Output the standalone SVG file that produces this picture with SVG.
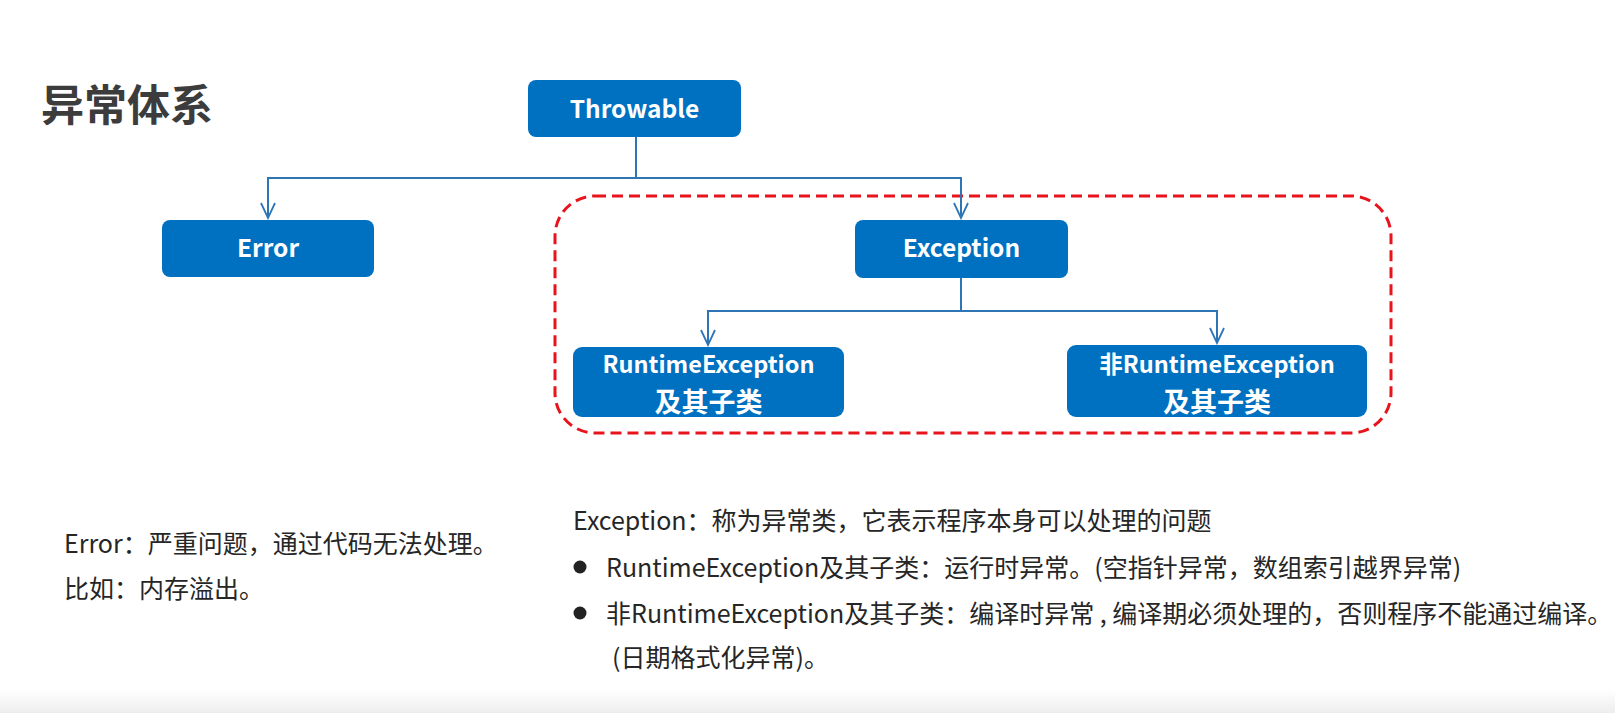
<svg xmlns="http://www.w3.org/2000/svg" width="1615" height="713" viewBox="0 0 1615 713">
  <style>
    .box { fill: #0070C0; }
    .bt { font-family: "Noto Sans CJK SC", "Noto Sans", sans-serif; font-weight: bold; fill: #ffffff; text-anchor: middle; }
    .conn { fill: none; stroke: #2E75B6; stroke-width: 2; }
    .body { font-family: "Noto Sans CJK SC", "Noto Sans", sans-serif; font-size: 25px; fill: #262626; }
  </style>
  <defs>
    <marker id="arr" viewBox="-17 -9 19 18" refX="0" refY="0" markerWidth="19" markerHeight="18" markerUnits="userSpaceOnUse" orient="auto">
      <path d="M-15,-7 L0,0 L-15,7" fill="none" stroke="#2E75B6" stroke-width="1.8"/>
    </marker>
    <linearGradient id="bot" x1="0" y1="0" x2="0" y2="1">
      <stop offset="0" stop-color="#ffffff"/>
      <stop offset="1" stop-color="#ededed"/>
    </linearGradient>
  </defs>
  <rect x="0" y="0" width="1615" height="713" fill="#ffffff"/>
  <rect x="0" y="690" width="1615" height="23" fill="url(#bot)"/>

  <text x="41" y="121" font-family="Noto Sans CJK SC, sans-serif" font-size="43" font-weight="bold" fill="#3c3c3c">异常体系</text>

  <rect x="555" y="196" width="836" height="237" rx="40" ry="40" fill="none" stroke="#E8141C" stroke-width="3" stroke-dasharray="11 6"/>

  <g id="connectors">
    <path class="conn" d="M636 137 V178 H268 V218" marker-end="url(#arr)"/>
    <path class="conn" d="M636 178 H961 V218" marker-end="url(#arr)"/>
    <path class="conn" d="M961 278 V311 H708 V345" marker-end="url(#arr)"/>
    <path class="conn" d="M961 311 H1217 V343" marker-end="url(#arr)"/>
  </g>

  <g id="throwable">
    <rect class="box" x="528" y="80" width="213" height="57" rx="8"/>
    <text class="bt" x="634.5" y="118" font-size="24.5">Throwable</text>
  </g>
  <g id="error">
    <rect class="box" x="162" y="220" width="212" height="57" rx="8"/>
    <text class="bt" x="268" y="257" font-size="24.5">Error</text>
  </g>
  <g id="exception">
    <rect class="box" x="855" y="220" width="213" height="58" rx="8"/>
    <text class="bt" x="961.5" y="257" font-size="24.5">Exception</text>
  </g>
  <g id="runtime">
    <rect class="box" x="573" y="347" width="271" height="70" rx="9"/>
    <text class="bt" x="708.5" y="373" font-size="23.5">RuntimeException</text>
    <text class="bt" x="708.5" y="412" font-size="27">及其子类</text>
  </g>
  <g id="nonruntime">
    <rect class="box" x="1067" y="345" width="300" height="72" rx="9"/>
    <text class="bt" x="1217" y="373" font-size="23.5">非RuntimeException</text>
    <text class="bt" x="1217" y="412" font-size="27">及其子类</text>
  </g>

  <g id="error-notes">
    <text class="body" x="64" y="553" font-size="24.5">Error：严重问题，通过代码无法处理。</text>
    <text class="body" x="64" y="598" font-size="24.5">比如：内存溢出。</text>
  </g>
  <g id="exception-notes">
    <text class="body" x="573" y="530">Exception：称为异常类，它表示程序本身可以处理的问题</text>
    <circle cx="580" cy="567" r="6.5" fill="#222"/>
    <text class="body" x="606" y="577">RuntimeException及其子类：运行时异常。(空指针异常，数组索引越界异常)</text>
    <circle cx="580" cy="613" r="6.5" fill="#222"/>
    <text class="body" x="606" y="623">非RuntimeException及其子类：编译时异常 , 编译期必须处理的，否则程序不能通过编译。</text>
    <text class="body" x="612" y="667">(日期格式化异常)。</text>
  </g>
</svg>
